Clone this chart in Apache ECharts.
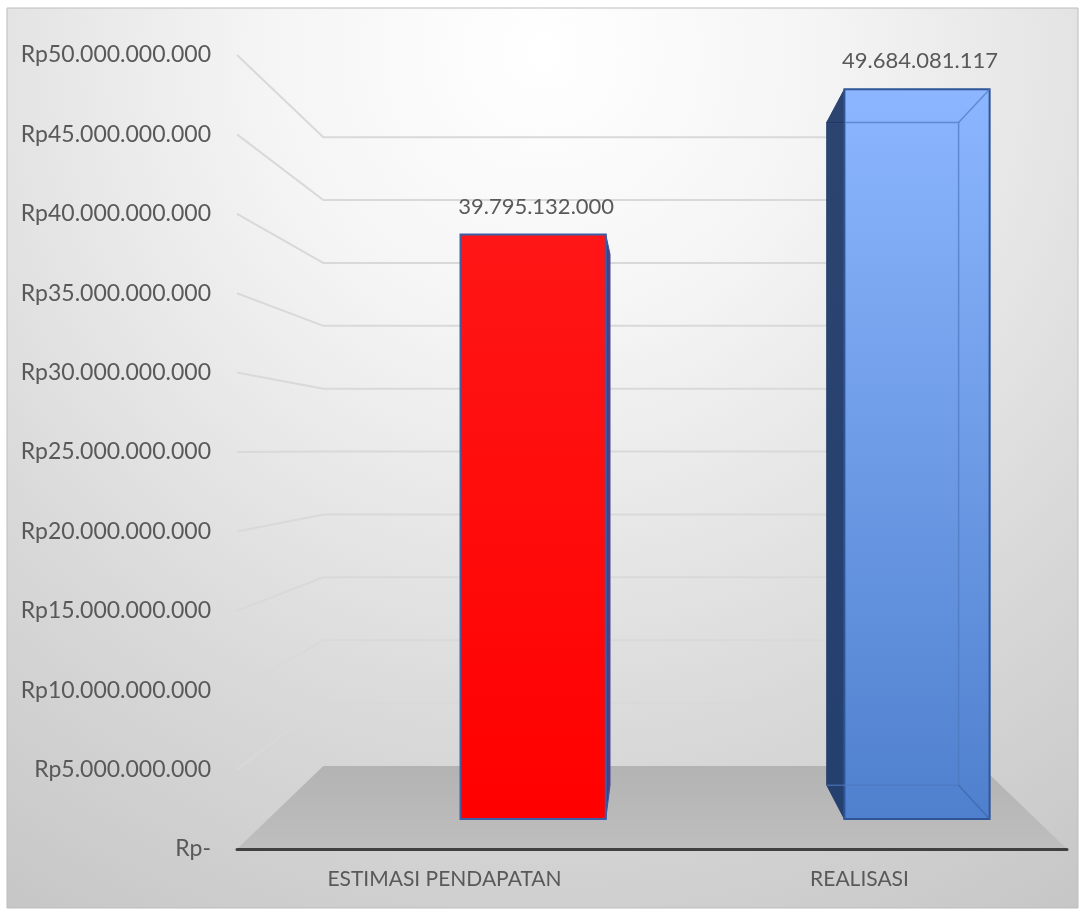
<!DOCTYPE html>
<html>
<head>
<meta charset="utf-8">
<style>html,body{margin:0;padding:0;background:#fff}#c{width:1082px;height:909px}</style>
<script src="https://cdn.jsdelivr.net/npm/echarts@6/dist/echarts.min.js"></script>
</head>
<body>
<div id="c"></div>
<script>
const categories = ['ESTIMASI PENDAPATAN', 'REALISASI'];
const realValues = [39795132000, 49684081117];
const dataLabels = ['39.795.132.000', '49.684.081.117'];
const axisTicks = [0, 5e9, 10e9, 15e9, 20e9, 25e9, 30e9, 35e9, 40e9, 45e9, 50e9];

// perspective of the box: vanishing point and depth ratios
const VX = 652, VY = 450, S_BACK = 0.792, S_BAR_FRONT = 0.925, S_BAR_BACK = 0.84;
const BAR_SHIFT = 79, BAR_W = 157;
const FONT = 'Lato';
const proj = (p, s) => [VX + s * (p[0] - VX), VY + s * (p[1] - VY)];
const grad = (x, y, x2, y2, a, b) => new echarts.graphic.LinearGradient(x, y, x2, y2, [{offset: 0, color: a}, {offset: 1, color: b}]);

function renderFloor(params, api) {
  const c = params.coordSys, y = api.coord([0, 0])[1];
  const l = [c.x, y], r = [c.x + c.width, y];
  return {type: 'polygon', shape: {points: [l, proj(l, S_BACK), proj(r, S_BACK), r]},
    style: {fill: grad(0, 0, 0, 1, '#b3b3b3', '#bebebe')}, silent: true};
}
function renderWall(params, api) {
  const c = params.coordSys, y = api.coord([0, api.value(1)])[1];
  const l = [c.x, y], r = [c.x + c.width, y];
  return {type: 'polyline', shape: {points: [l, proj(l, S_BACK), proj(r, S_BACK)]},
    style: {stroke: '#d9d9d9', lineWidth: 2, fill: null}, silent: true};
}
function renderBar(params, api) {
  const i = api.value(0), top = api.coord([i, api.value(1)]), base = api.coord([i, 0]);
  const cx = top[0] + BAR_SHIFT, xL = cx - BAR_W / 2, xR = cx + BAR_W / 2;
  const P = (x, y, s) => proj([x, y], s);
  const fTL = P(xL, top[1], S_BAR_FRONT), fTR = P(xR, top[1], S_BAR_FRONT),
        fBL = P(xL, base[1], S_BAR_FRONT), fBR = P(xR, base[1], S_BAR_FRONT),
        bTL = P(xL, top[1], S_BAR_BACK), bTR = P(xR, top[1], S_BAR_BACK),
        bBL = P(xL, base[1], S_BAR_BACK), bBR = P(xR, base[1], S_BAR_BACK);
  const kids = [];
  const isBlue = i === 1;
  const outline = isBlue ? '#2f5597' : '#3d5ea6';
  if (bTL[0] < fTL[0]) kids.push({type: 'polygon', shape: {points: [bTL, fTL, fBL, bBL]},
    style: {fill: grad(0, 0, 0, 1, '#2c4470', '#24406f'), stroke: '#24406f', lineWidth: 1}});
  if (bTR[0] > fTR[0]) kids.push({type: 'polygon', shape: {points: [fTR, bTR, bBR, fBR]},
    style: {fill: '#4a3f86', stroke: '#3d4f96', lineWidth: 1}});
  kids.push({type: 'polygon', shape: {points: [fTL, fTR, fBR, fBL]},
    style: {fill: isBlue ? grad(0, 0, 0, 1, '#8cb6ff', '#4f80cd') : grad(0, 0, 0, 1, '#ff1616', '#ff0000'),
      stroke: outline, lineWidth: 2}});
  if (isBlue) {
    const ln = '#4f78bd';
    kids.push({type: 'polyline', shape: {points: [bTL, bTR, bBR, bBL]}, style: {stroke: ln, lineWidth: 1.5, fill: null, opacity: 0.7}});
    kids.push({type: 'line', shape: {x1: bTR[0], y1: bTR[1], x2: fTR[0], y2: fTR[1]}, style: {stroke: ln, lineWidth: 1.5, opacity: 0.7}});
    kids.push({type: 'line', shape: {x1: bBR[0], y1: bBR[1], x2: fBR[0], y2: fBR[1]}, style: {stroke: '#3f68ad', lineWidth: 1.5, opacity: 0.8}});
    kids.push({type: 'line', shape: {x1: fTL[0], y1: bTL[1], x2: bTL[0], y2: bTL[1]}, style: {stroke: '#1f3560', lineWidth: 1.5}});
  }
  kids.push({type: 'text', style: {text: dataLabels[i], x: (fTL[0] + fTR[0]) / 2 + 3, y: fTL[1] - 28,
    align: 'center', verticalAlign: 'middle', font: '22px ' + FONT, fill: '#595959'}});
  return {type: 'group', children: kids, silent: true};
}

const chart = echarts.init(document.getElementById('c'), null, {renderer: 'canvas'});
chart.setOption({
  animation: false,
  graphic: [{type: 'rect', z: -10, silent: true, shape: {x: 7, y: 8, width: 1071, height: 900},
    style: {stroke: '#bdbdbd', lineWidth: 1,
      fill: new echarts.graphic.RadialGradient(0.5, 0.05, 1.2, [
        {offset: 0, color: '#ffffff'}, {offset: 0.25, color: '#f5f5f5'}, {offset: 0.49, color: '#e4e4e4'},
        {offset: 0.64, color: '#d9d9d9'}, {offset: 1, color: '#c2c2c2'}])}}],
  grid: {left: 237, right: 15, top: 55, bottom: 60},
  xAxis: {type: 'category', data: categories, z: 10,
    axisLine: {lineStyle: {color: '#404040', width: 3}}, axisTick: {show: false},
    axisLabel: {color: '#595959', fontFamily: FONT, fontSize: 21, margin: 20}},
  yAxis: {type: 'value', min: 0, max: axisTicks[axisTicks.length - 1], interval: axisTicks[1],
    axisLine: {show: false}, axisTick: {show: false}, splitLine: {show: false},
    axisLabel: {color: '#595959', fontFamily: FONT, fontSize: 23, margin: 26,
      formatter: v => v === 0 ? 'Rp-' : 'Rp' + String(v).replace(/\B(?=(\d{3})+$)/g, '.')}},
  series: [
    {type: 'custom', z: 1, renderItem: renderFloor, clip: false, data: [[0, 0]], encode: {x: 0, y: 1}, silent: true},
    {type: 'custom', z: 2, renderItem: renderWall, clip: false, data: axisTicks.slice(1).map(v => [0, v]), encode: {x: 0, y: 1}, silent: true},
    {type: 'custom', z: 3, renderItem: renderBar, clip: false, data: realValues.map((v, i) => [i, v]), encode: {x: 0, y: 1}, silent: true}
  ]
});
</script>
</body>
</html>
